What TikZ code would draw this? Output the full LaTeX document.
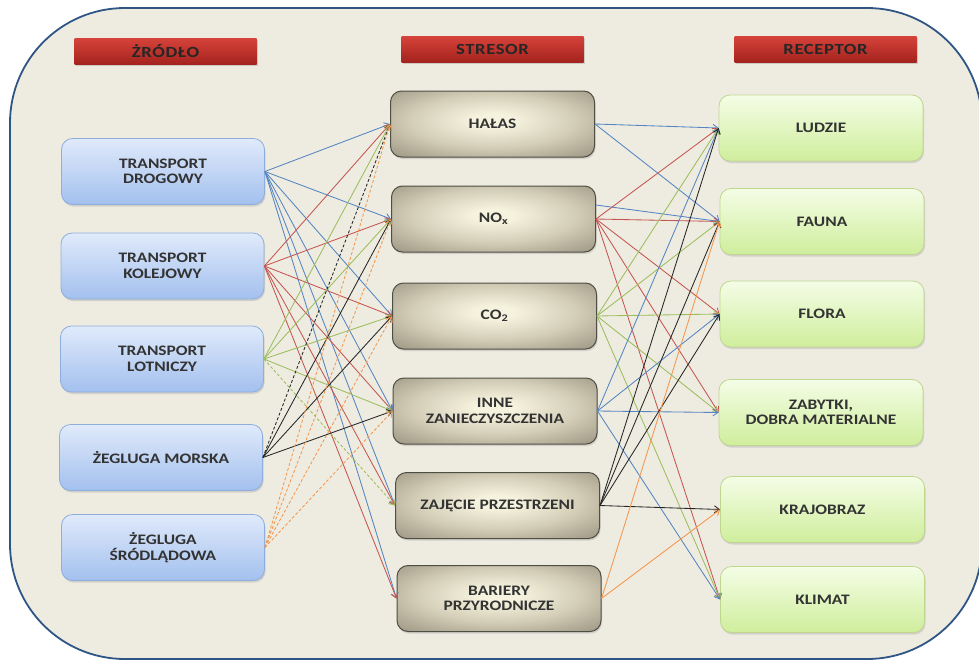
\documentclass[tikz,border=0pt]{standalone}
\usepackage{fontspec}
\newfontfamily\lbl[FakeStretch=1.2]{Carlito}
\newfontfamily\hdr[FakeStretch=1.2,LetterSpace=4]{Carlito}
\usetikzlibrary{arrows.meta,shadows}
\definecolor{bgc}{HTML}{EEECE1}
\definecolor{framec}{HTML}{2F5585}
\definecolor{txt}{HTML}{333333}
\definecolor{srcT}{HTML}{E0EAFB}
\definecolor{srcBo}{HTML}{A3C0EE}
\definecolor{srcD}{HTML}{8EAEDD}
\definecolor{recT}{HTML}{F4FDE6}
\definecolor{recBo}{HTML}{CFEE9C}
\definecolor{recD}{HTML}{BFD68F}
\definecolor{gA}{HTML}{F5F2DD}
\definecolor{gB}{HTML}{D4CEB8}
\definecolor{gC}{HTML}{ABA591}
\definecolor{gE}{HTML}{888370}
\definecolor{gD}{HTML}{4F4E45}
\definecolor{hdT}{HTML}{D6433A}
\definecolor{hdB}{HTML}{A5231E}
\definecolor{cblue}{HTML}{5585C2}
\definecolor{cred}{HTML}{C65551}
\definecolor{cgreen}{HTML}{9CBD5C}
\definecolor{cblack}{HTML}{262626}
\definecolor{corange}{HTML}{F4964E}
\pgfdeclareradialshading{grayrad}{\pgfpoint{0bp}{3bp}}{color(0bp)=(gA); color(5bp)=(gA); color(20bp)=(gB); color(32bp)=(gC); color(44bp)=(gE); color(100bp)=(gE)}
\tikzset{
  boxfont/.style={font=\lbl\bfseries\fontsize{14.5}{15.5}\selectfont, text=txt, align=center},
  srcbox/.style={boxfont, draw=srcD, line width=0.8pt, rounded corners=11pt, top color=srcT, bottom color=srcBo,
    minimum width=203pt, minimum height=66pt, drop shadow={shadow xshift=1pt, shadow yshift=-2pt, opacity=0.25}},
  strbox/.style={boxfont, draw=gD, line width=1pt, rounded corners=11pt, shading=grayrad,
    minimum width=204pt, minimum height=66pt, drop shadow={shadow xshift=1pt, shadow yshift=-2pt, opacity=0.25}},
  recbox/.style={boxfont, draw=recD, line width=0.8pt, rounded corners=11pt, top color=recT, bottom color=recBo,
    minimum width=204pt, minimum height=66pt, drop shadow={shadow xshift=1pt, shadow yshift=-2pt, opacity=0.25}},
  hdrbox/.style={font=\hdr\bfseries\fontsize{15.5}{16}\selectfont, text=black!85, top color=hdT, bottom color=hdB,
    minimum width=182pt, minimum height=26pt, inner sep=0pt, drop shadow={shadow xshift=1.5pt, shadow yshift=-1.5pt, opacity=0.3}},
  ln/.style={line width=0.85pt, -{Straight Barb[length=5pt,width=7pt]}},
  dsh/.style={dash pattern=on 3pt off 2pt}
}
\begin{document}
\begin{tikzpicture}[x=1pt,y=-1pt]
\useasboundingbox (0,0) rectangle (979,662);
\fill[white] (0,0) rectangle (979,662);
\draw[framec, line width=1.8pt, fill=bgc, rounded corners=115pt] (10,8) rectangle (982,659);

% headers
\node[hdrbox] (hz) at (165.5,51) {ŻRÓDŁO};
\node[hdrbox] (hs) at (492.5,49) {STRESOR};
\node[hdrbox] (hr) at (825.5,49) {RECEPTOR};

% sources
\node[srcbox] (drog) at (163,171.5) {TRANSPORT\\DROGOWY};
\node[srcbox] (kol)  at (162.5,266) {TRANSPORT\\KOLEJOWY};
\node[srcbox] (lot)  at (162,359) {TRANSPORT\\LOTNICZY};
\node[srcbox] (mor)  at (161,457.5) {ŻEGLUGA MORSKA};
\node[srcbox] (srod) at (163,547.5) {ŻEGLUGA\\ŚRÓDLĄDOWA};

% stressors
\node[strbox] (hal)  at (492.5,124) {HAŁAS};
\node[strbox] (nox)  at (493.5,219) {NO\textsubscript{x}};
\node[strbox] (co2)  at (494.5,316) {CO\textsubscript{2}};
\node[strbox] (inne) at (495,411) {INNE\\ZANIECZYSZCZENIA};
\node[strbox] (zaj)  at (497.5,505.5) {ZAJĘCIE PRZESTRZENI};
\node[strbox] (bar)  at (499,598.5) {BARIERY\\PRZYRODNICZE};

% receptors
\node[recbox] (lud) at (821,128) {LUDZIE};
\node[recbox] (fau) at (822,221.5) {FAUNA};
\node[recbox] (flo) at (822,314) {FLORA};
\node[recbox] (zab) at (821,412.5) {ZABYTKI,\\DOBRA MATERIALNE};
\node[recbox] (kra) at (822.5,509.5) {KRAJOBRAZ};
\node[recbox] (kli) at (822.5,599.5) {KLIMAT};

% source -> stressor
\foreach \t in {hal,nox,co2,inne,zaj,bar} \draw[ln,cblue] (drog.east) -- (\t.west);
\foreach \t in {hal,nox,co2,inne,zaj,bar} \draw[ln,cred] (kol.east) -- (\t.west);
\foreach \t in {hal,nox,co2,inne} \draw[ln,cgreen] (lot.east) -- (\t.west);
\draw[ln,cgreen,dsh] (lot.east) -- (zaj.west);
\draw[ln,cblack,dsh] (mor.east) -- (hal.west);
\foreach \t in {nox,co2,inne} \draw[ln,cblack] (mor.east) -- (\t.west);
\foreach \t in {hal,nox,co2,inne} \draw[ln,corange,dsh] (srod.east) -- (\t.west);

% stressor -> receptor
\foreach \t in {lud,fau} \draw[ln,cblue] (hal.east) -- (\t.west);
\draw[ln,cblue] ([yshift=14pt]nox.east) -- (fau.west);
\foreach \t in {lud,fau,flo,zab,kli} \draw[ln,cred] (nox.east) -- (\t.west);
\foreach \t in {lud,fau,flo,zab,kli} \draw[ln,cgreen] (co2.east) -- (\t.west);
\foreach \t in {lud,flo,zab,kli} \draw[ln,cblue] (inne.east) -- (\t.west);
\foreach \t in {lud,fau,flo,kra} \draw[ln,cblack] (zaj.east) -- (\t.west);
\foreach \t in {fau,kra} \draw[ln,corange] (bar.east) -- (\t.west);
\end{tikzpicture}
\end{document}
